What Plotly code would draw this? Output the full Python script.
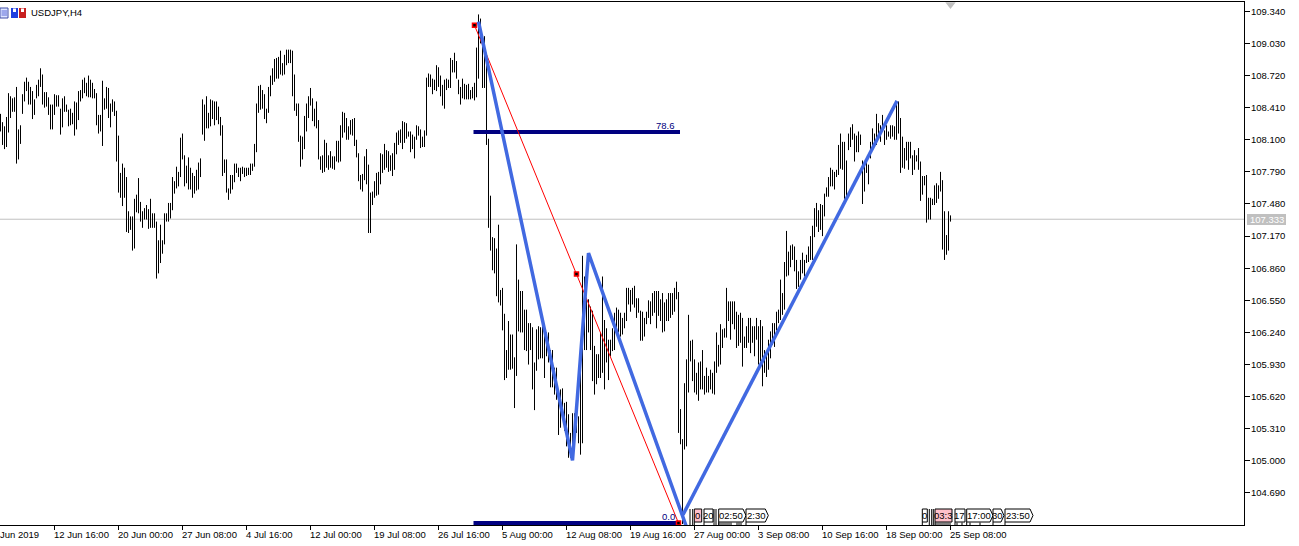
import plotly.graph_objects as go

highs = [
108.35,108.27,108.23,108.32,108.55,108.52,108.50,108.51,108.61,108.20,108.24,108.54,108.66,108.70,108.66,108.61,108.57,108.49,108.63,108.68,
108.79,108.73,108.56,108.56,108.51,108.44,108.44,108.54,108.53,108.53,108.40,108.50,108.52,108.44,108.39,108.40,108.36,108.47,108.46,108.57,
108.58,108.68,108.70,108.65,108.72,108.68,108.65,108.59,108.55,108.34,108.34,108.67,108.50,108.61,108.60,108.45,108.49,108.47,108.38,108.14,
107.78,107.87,107.83,107.74,107.41,107.36,107.36,107.53,107.57,107.73,107.50,107.41,107.44,107.47,107.43,107.53,107.39,107.39,107.31,107.13,
107.28,107.13,107.39,107.39,107.49,107.49,107.74,107.70,107.84,107.79,108.12,108.16,107.95,107.85,107.93,107.83,107.78,107.75,107.81,107.88,
107.92,108.49,108.44,108.52,108.36,108.49,108.48,108.47,108.47,108.42,108.32,108.24,107.91,107.91,107.63,107.76,107.76,107.87,107.87,107.83,
107.83,107.84,107.83,107.83,107.83,107.87,107.87,108.06,108.45,108.62,108.63,108.58,108.54,108.40,108.61,108.72,108.79,108.88,108.89,108.90,
108.96,108.84,108.92,108.97,108.97,108.97,108.96,108.73,108.45,108.45,108.14,108.13,108.33,108.45,108.52,108.60,108.50,108.40,108.47,108.29,
107.94,107.95,108.10,108.07,107.95,107.99,107.94,107.94,108.09,108.09,108.24,108.37,108.36,108.31,108.23,108.29,108.30,108.31,108.10,107.97,
107.76,107.77,107.94,108.01,107.86,107.59,107.60,107.70,107.78,107.79,107.97,107.96,108.06,108.00,107.99,107.95,107.97,108.07,108.17,108.19,
108.20,108.28,108.27,108.26,108.18,108.18,108.15,108.13,108.24,108.23,108.20,108.13,108.19,108.70,108.74,108.73,108.69,108.68,108.82,108.80,
108.72,108.63,108.68,108.69,108.68,108.89,108.87,108.94,108.86,108.68,108.61,108.69,108.64,108.63,108.64,108.58,108.61,108.65,108.99,109.31,
109.27,109.09,109.10,108.90,108.11,107.56,107.16,107.15,107.05,107.28,106.65,106.67,106.42,106.07,106.35,106.22,106.22,106.00,107.09,106.75,
106.64,106.64,106.46,106.46,106.33,106.33,106.29,105.95,106.27,106.30,106.29,106.30,106.30,106.24,106.24,106.07,106.07,105.90,105.90,105.69,
105.69,105.70,105.56,105.57,105.45,105.27,105.46,105.46,105.59,105.43,106.06,106.98,106.78,106.56,106.56,106.49,106.45,106.11,106.03,106.03,
106.24,106.78,106.36,106.28,106.17,106.17,106.28,106.43,106.48,106.46,106.43,106.38,106.43,106.67,106.67,106.65,106.67,106.69,106.57,106.57,
106.45,106.44,106.38,106.44,106.55,106.54,106.62,106.64,106.64,106.64,106.56,106.62,106.53,106.56,106.62,106.62,106.62,106.67,106.73,106.63,
105.50,105.21,105.75,105.98,106.41,106.16,106.17,105.98,105.85,105.95,105.96,106.07,105.82,105.90,105.82,105.88,105.85,105.96,106.24,106.12,
106.32,106.27,106.28,106.67,106.54,106.54,106.54,106.54,106.44,106.41,106.43,106.38,106.20,106.30,106.38,106.38,106.30,106.30,106.38,106.30,
106.36,106.30,106.07,106.05,106.17,106.25,106.33,106.33,106.44,106.46,106.75,106.62,106.92,107.22,107.02,107.08,107.09,107.07,106.94,106.83,
106.94,107.01,106.94,106.99,107.07,107.17,107.27,107.44,107.49,107.42,107.48,107.47,107.58,107.64,107.74,107.83,107.81,107.79,107.81,108.05,
108.16,108.08,108.08,107.90,108.16,108.22,108.25,108.16,108.14,108.18,108.15,107.90,107.88,107.92,107.86,108.08,108.21,108.16,108.35,108.26,
108.24,108.34,108.19,108.24,108.18,108.24,108.24,108.23,108.47,108.47,108.31,108.13,108.02,108.08,108.08,108.08,107.95,108.00,107.95,108.02,
107.89,107.75,107.75,107.76,107.54,107.54,107.53,107.66,107.68,107.66,107.79,107.71,107.41,107.18,107.41,107.37,
]
lows = [
108.18,108.05,108.01,108.03,108.17,108.31,108.37,108.37,107.87,107.91,108.06,108.35,108.47,108.57,108.44,108.44,108.30,108.34,108.50,108.52,
108.61,108.44,108.41,108.42,108.34,108.20,108.20,108.34,108.42,108.42,108.15,108.22,108.37,108.37,108.23,108.24,108.25,108.14,108.20,108.29,
108.47,108.50,108.55,108.52,108.51,108.51,108.50,108.50,108.24,108.16,108.18,108.04,108.39,108.40,108.31,108.22,108.37,108.33,107.89,107.59,
107.54,107.46,107.54,107.21,107.20,107.23,107.03,107.05,107.40,107.39,107.31,107.25,107.33,107.33,107.24,107.25,107.25,107.25,106.76,106.81,
106.91,107.00,107.09,107.31,107.31,107.34,107.42,107.58,107.63,107.65,107.74,107.91,107.65,107.68,107.62,107.62,107.54,107.58,107.61,107.62,
107.74,108.15,108.09,108.21,108.21,108.23,108.30,108.24,108.29,108.25,108.14,107.75,107.78,107.59,107.52,107.58,107.62,107.69,107.78,107.74,
107.70,107.77,107.74,107.75,107.76,107.76,107.80,107.84,107.98,108.36,108.39,108.40,108.30,108.26,108.36,108.52,108.63,108.66,108.69,108.69,
108.73,108.72,108.73,108.82,108.84,108.84,108.52,108.38,108.33,108.08,107.84,107.91,108.01,108.18,108.31,108.43,108.28,108.23,108.21,107.91,
107.81,107.78,107.79,107.83,107.81,107.83,107.82,107.81,107.89,107.88,107.89,108.12,108.17,108.10,108.10,108.15,108.14,108.04,107.93,107.70,
107.62,107.60,107.71,107.67,107.20,107.20,107.47,107.54,107.56,107.57,107.67,107.78,107.81,107.83,107.79,107.80,107.75,107.81,107.96,108.05,
108.07,108.01,108.07,108.11,108.13,107.98,108.01,107.92,108.10,108.14,108.02,108.03,108.03,108.14,108.61,108.61,108.54,108.58,108.57,108.61,
108.52,108.43,108.40,108.58,108.60,108.60,108.75,108.75,108.69,108.54,108.44,108.50,108.49,108.49,108.49,108.49,108.50,108.48,108.51,108.69,
109.03,108.60,108.60,108.05,107.25,107.03,106.84,106.81,106.59,106.53,106.50,106.26,105.78,105.80,105.88,105.88,105.89,105.51,105.82,106.25,
106.24,106.24,106.07,106.06,105.93,106.07,105.69,105.49,105.87,105.98,105.99,105.99,105.80,106.01,105.95,105.71,105.71,105.64,105.59,105.25,
105.32,105.43,105.29,105.14,105.03,105.03,105.01,105.21,105.27,105.17,105.06,105.17,106.07,106.07,106.24,106.07,105.77,105.64,105.74,105.80,
105.80,105.85,105.69,105.95,105.78,106.01,106.06,106.07,106.22,106.24,106.20,106.22,106.28,106.35,106.51,106.44,106.51,106.48,106.38,106.43,
106.16,106.16,106.20,106.32,106.38,106.32,106.40,106.43,106.28,106.40,106.35,106.24,106.25,106.35,106.35,106.38,106.41,106.44,106.56,105.27,
105.16,104.39,105.11,105.14,105.66,105.96,105.77,105.66,105.64,105.58,105.69,105.69,105.64,105.66,105.66,105.69,105.65,105.64,105.85,105.91,
105.93,106.09,106.19,106.19,106.35,106.17,106.32,106.27,106.09,106.11,106.14,105.91,106.09,106.09,106.14,106.04,106.14,106.01,106.17,105.93,
105.96,105.72,105.85,105.81,105.88,105.99,106.12,106.10,106.26,106.33,106.36,106.41,106.46,106.78,106.79,106.87,106.94,106.83,106.66,106.68,
106.75,106.81,106.78,106.91,106.92,106.94,106.94,107.16,107.26,107.21,107.23,107.17,107.36,107.55,107.55,107.65,107.65,107.62,107.74,107.76,
107.82,107.81,107.53,107.55,108.00,108.03,108.10,107.89,107.98,107.98,108.05,107.48,107.60,107.78,107.67,107.92,108.01,108.03,108.05,108.13,
108.08,108.18,108.05,108.10,108.13,108.11,108.13,108.10,108.10,108.16,107.78,107.83,107.82,107.90,107.81,107.92,107.76,107.81,107.89,107.81,
107.51,107.57,107.66,107.30,107.33,107.33,107.47,107.47,107.49,107.53,107.60,107.04,106.94,106.99,107.03,107.31,
]

axis_idx = [27,59,91,123,155,187,219,251,283,315,347,379,411,443,475]
axis_txt = ["12 Jun 16:00","20 Jun 00:00","27 Jun 08:00","4 Jul 16:00","12 Jul 00:00","19 Jul 08:00","26 Jul 16:00",
            "5 Aug 00:00","12 Aug 08:00","19 Aug 16:00","27 Aug 00:00","3 Sep 08:00","10 Sep 16:00","18 Sep 00:00","25 Sep 08:00"]
price_ticks = [109.34,109.03,108.72,108.41,108.10,107.79,107.48,107.17,106.86,106.55,106.24,105.93,105.62,105.31,105.00,104.69]
last_price = 107.333

zig_x1 = [239,286,294,342.75]
zig_y1 = [109.24,105.005,107.006,104.375]
zig_x2 = [341.25,448.25]
zig_y2 = [104.48,108.475]
fib_x = [237,288,339]
fib_y = [109.205,106.803,104.40]
lvl786_x = [236.5,339.75]
lvl786_y = [108.176,108.176]
lvl0_x = [236.5,339]
lvl0_y = [104.40,104.40]

FONT = "'Liberation Sans',sans-serif"
FS = 9.5
W, H = 1299, 546
L_PX, R_PX, T_PX, B_PX = 0, 1244, 2, 525

def fx(px): return (px - L_PX) / (R_PX - L_PX)
def fy(py): return (B_PX - py) / (B_PX - T_PX)

bx, by = [], []
for i, (hi, lo) in enumerate(zip(highs, lows)):
    bx += [i, i, None]
    by += [lo, hi, None]

fig = go.Figure()
fig.add_trace(go.Scatter(x=bx, y=by, mode="lines", line=dict(color="#000000", width=1), hoverinfo="skip"))
for xs, ys in ((lvl786_x, lvl786_y), (lvl0_x, lvl0_y)):
    fig.add_trace(go.Scatter(x=xs, y=ys, mode="lines", line=dict(color="#000080", width=4), hoverinfo="skip"))
fig.add_trace(go.Scatter(x=fib_x, y=fib_y, mode="lines+markers", line=dict(color="#ff0000", width=1),
                         marker=dict(symbol="square", size=4, color="#000000", line=dict(color="#ff0000", width=1.5)), hoverinfo="skip"))
for xs, ys in ((zig_x1, zig_y1), (zig_x2, zig_y2)):
    fig.add_trace(go.Scatter(x=xs, y=ys, mode="lines", line=dict(color="#4169e1", width=3.5), hoverinfo="skip"))
fig.add_trace(go.Scatter(x=[475], y=[109.405], mode="markers", marker=dict(symbol="triangle-down", size=9, color="#c0c0c0"),
                         hoverinfo="skip", cliponaxis=False))

shapes = [dict(type="line", xref="paper", x0=0, x1=1, yref="y", y0=last_price, y1=last_price,
               line=dict(color="#c0c0c0", width=1), layer="below")]

def rect(x0, y0, x1, y1, fill, line=None, lw=1):
    shapes.append(dict(type="rect", xref="paper", yref="paper", x0=fx(x0), x1=fx(x1), y0=fy(y1), y1=fy(y0),
                       fillcolor=fill, line=dict(color=line or fill, width=lw if line else 0), layer="above"))

# price label
shapes.append(dict(type="rect", xref="paper", yref="paper", x0=fx(1247), x1=fx(1286), y0=fy(225), y1=fy(214),
                   fillcolor="#c0c0c0", line=dict(width=0), layer="above"))

# toolbar icons
rect(0, 8, 8, 18, "#dfe6ff", "#404fa8")
for yy in (10.5, 12.5, 14.5):
    rect(1.5, yy, 7, yy + 1, "#5a6ad8")
rect(11, 8, 18, 18, "#1f3fe0")
rect(19, 8, 26, 18, "#c82020")
rect(13, 8.5, 16, 12, "#ffffff")
rect(21, 8.5, 24, 12, "#ffffff")

# time tags along the bottom edge: x0, x1, text, fill, arrow
TOP, BOT = 509, 522
tags = [(694.3,701.7,"0","#ffc0cb",False),(704,713,"20","#ffffff",False),(718.7,746,"02:50","#ffffff",True),
        (746,768.3,"2:30","#ffffff",True),(922.3,927.3,"0","#ffffff",False),(935,952,"03:3","#ffc0cb",False),
        (955,965,"17","#ffffff",False),(966.7,993,"17:00","#ffffff",True),(993,1004,"30","#ffffff",True),
        (1005,1033,"23:50","#ffffff",True)]
annos = []
for x0, x1, txt, fill, arrow in tags:
    if arrow:
        path = (f"M {fx(x0)} {fy(TOP)} L {fx(x1-3)} {fy(TOP)} L {fx(x1)} {fy((TOP+BOT)/2)} L {fx(x1-3)} {fy(BOT)} "
                f"L {fx(x0)} {fy(BOT)} Z")
    else:
        path = f"M {fx(x0)} {fy(TOP)} L {fx(x1)} {fy(TOP)} L {fx(x1)} {fy(BOT)} L {fx(x0)} {fy(BOT)} Z"
    shapes.append(dict(type="path", xref="paper", yref="paper", path=path, fillcolor=fill,
                       line=dict(color="#000000", width=1), layer="above"))
    shapes.append(dict(type="line", xref="paper", yref="paper", x0=fx(x0), x1=fx(x0), y0=fy(BOT), y1=fy(B_PX),
                       line=dict(color="#000000", width=1), layer="above"))
    annos.append(dict(xref="paper", yref="paper", x=fx((x0 + x1) / 2 - (1 if arrow else 0)), y=fy((TOP + BOT) / 2), text=txt, showarrow=False,
                      font=dict(family=FONT, size=FS, color="#000000"), xanchor="center", yanchor="middle"))
for xv in (690, 692.7, 714, 716, 929.3, 931.7, 933.3):
    shapes.append(dict(type="line", xref="paper", yref="paper", x0=fx(xv), x1=fx(xv), y0=fy(TOP), y1=fy(B_PX),
                       line=dict(color="#000000", width=1), layer="above"))
for xv in [719 + 2 * k for k in range(7)] + [737, 739, 741] + [936 + 2 * k for k in range(8)] + [957, 962, 970, 980]:
    shapes.append(dict(type="line", xref="paper", yref="paper", x0=fx(xv), x1=fx(xv), y0=fy(522.5), y1=fy(B_PX),
                       line=dict(color="#000000", width=1), layer="above"))

for i, t in zip(axis_idx, axis_txt):
    annos.append(dict(xref="x", yref="paper", x=i, y=0, yshift=-3, text=t, showarrow=False, xanchor="left", yanchor="top",
                      xshift=-2, font=dict(family=FONT, size=FS, color="#000000"), borderpad=0))
annos.append(dict(xref="paper", yref="paper", x=0, y=0, yshift=-3, xshift=-1, text="Jun 2019", showarrow=False,
                  xanchor="left", yanchor="top", font=dict(family=FONT, size=FS, color="#000000"), borderpad=0))
annos.append(dict(xref="paper", yref="paper", x=fx(30), y=fy(12.5), text="USDJPY,H4", showarrow=False, xanchor="left",
                  yanchor="middle", font=dict(family=FONT, size=FS, color="#000000"), borderpad=0))
annos.append(dict(xref="x", yref="y", x=338, y=108.235, text="78.6", showarrow=False, xanchor="right", yanchor="middle",
                  font=dict(family=FONT, size=FS, color="#000080")))
annos.append(dict(xref="x", yref="y", x=338.3, y=104.465, text="0.0", showarrow=False, xanchor="right", yanchor="middle",
                  font=dict(family=FONT, size=FS, color="#000080")))
annos.append(dict(xref="paper", yref="y", x=fx(1266.5), y=last_price, text=f"{last_price:.3f}", showarrow=False,
                  xanchor="center", yanchor="middle", font=dict(family=FONT, size=FS, color="#ffffff")))

fig.update_layout(
    width=W, height=H, showlegend=False, paper_bgcolor="#ffffff", plot_bgcolor="#ffffff",
    margin=dict(l=L_PX, r=W - R_PX, t=T_PX, b=H - B_PX, pad=0, autoexpand=False),
    shapes=shapes, annotations=annos, hovermode=False,
    xaxis=dict(range=[-0.25, 621.75], showgrid=False, zeroline=False, showline=True, mirror=True, linecolor="#000000", linewidth=1,
               ticks="outside", ticklen=4, tickwidth=1, tickcolor="#000000", tickmode="array", tickvals=axis_idx,
               showticklabels=False, fixedrange=True),
    yaxis=dict(range=[104.381, 109.43], side="right", showgrid=False, zeroline=False, showline=True, linecolor="#000000", linewidth=1,
               ticks="outside", ticklen=5, tickwidth=1, tickcolor="#000000", tickmode="array", tickvals=price_ticks,
               ticktext=[f"{p:.3f}" for p in price_ticks], tickfont=dict(family=FONT, size=FS, color="#000000"),
               ticklabelstandoff=-1, fixedrange=True),
)
fig.write_html("out.html", config={"displayModeBar": False}, post_script="document.body.style.margin='0';")
